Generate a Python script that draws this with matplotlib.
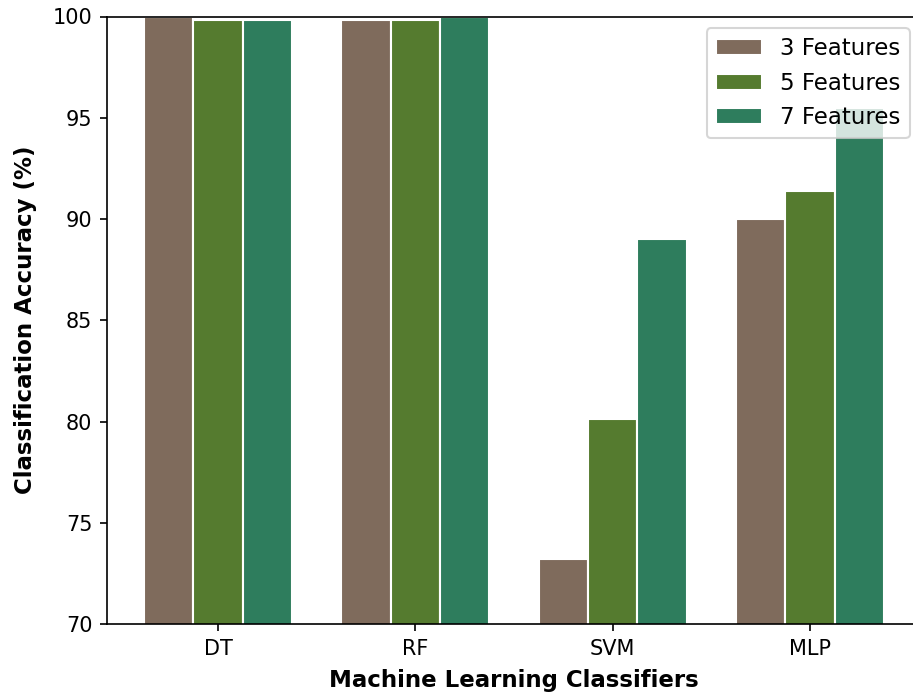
import numpy as np
import matplotlib
matplotlib.use("Agg")
import matplotlib.pyplot as plt

classifiers = ["DT", "RF", "SVM", "MLP"]
series_names = ["3 Features", "5 Features", "7 Features"]
acc_3 = [100.0, 99.85, 73.2, 90.0]
acc_5 = [99.85, 99.85, 80.1, 91.4]
acc_7 = [99.85, 100.0, 89.0, 95.5]
colors = ["#7f6b5c", "#557b2f", "#2e7d5d"]

fig = plt.figure(figsize=(913 / 150, 693 / 150), dpi=150)
ax = fig.add_axes([107 / 913, 69 / 693, 814 / 913, 607.5 / 693])

x = np.arange(len(classifiers))
width = 0.25
for i, (vals, name) in enumerate(zip([acc_3, acc_5, acc_7], series_names)):
    ax.bar(x + (i - 1) * width, vals, width, color=colors[i],
           edgecolor="white", linewidth=1.0, label=name)

ax.set_ylim(70, 100)
ax.set_xticks(x)
ax.set_xticklabels(classifiers)
ax.set_xlabel("Machine Learning Classifiers", fontsize=11, fontweight="bold",
              labelpad=5.0)
ax.set_ylabel("Classification Accuracy (%)", fontsize=11, fontweight="bold",
              labelpad=7.5)
ax.legend(loc="upper right", fontsize=11)

fig.savefig("out.png", dpi=150)
